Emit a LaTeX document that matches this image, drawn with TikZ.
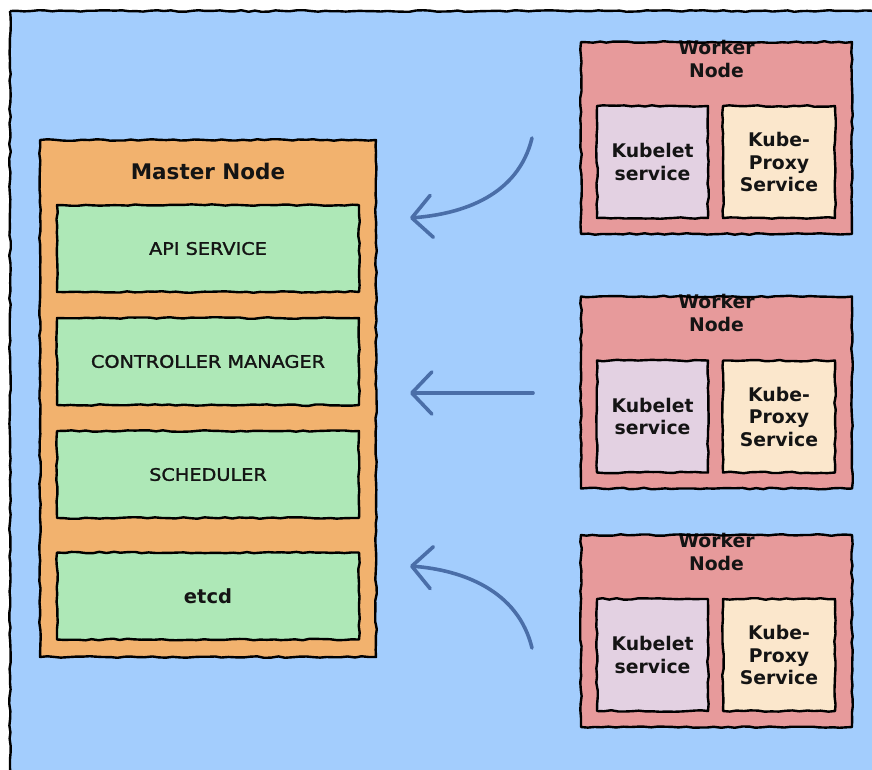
\documentclass[tikz,border=0pt]{standalone}
\usepackage{fontspec}
\setmainfont{DejaVu Sans}
\newfontfamily\wideface[FakeStretch=1.12, FakeBold=1.5]{DejaVu Sans}
\usetikzlibrary{decorations.pathmorphing,arrows.meta}

\definecolor{skyfill}{HTML}{A3CDFD}
\definecolor{masterfill}{HTML}{F2B26E}
\definecolor{svcfill}{HTML}{AEE8B7}
\definecolor{workerfill}{HTML}{E79A9B}
\definecolor{kubeletfill}{HTML}{E3D1E2}
\definecolor{proxyfill}{HTML}{FBE7CC}
\definecolor{arrowblue}{HTML}{4A6EA8}
\definecolor{ink}{HTML}{141414}

\tikzset{
  sketch/.style={draw=black, line width=2.4pt, line join=round,
    decorate, decoration={random steps, segment length=7pt, amplitude=0.8pt}},
  plainbox/.style={rectangle, inner sep=0pt, outer sep=0pt, text=ink},
  masterbox/.style={plainbox, fill=masterfill, minimum width=336pt, minimum height=517pt},
  svcbox/.style={plainbox, fill=svcfill, minimum width=302pt, minimum height=87pt,
    font=\wideface\fontsize{17.2}{20}\selectfont},
  workerbox/.style={plainbox, fill=workerfill, minimum width=271pt, minimum height=192pt},
  kubeletbox/.style={plainbox, fill=kubeletfill, minimum width=111pt, minimum height=112pt,
    align=center, font=\bfseries\fontsize{18.8}{22.5}\selectfont},
  proxybox/.style={plainbox, fill=proxyfill, minimum width=112pt, minimum height=112pt,
    align=center, font=\bfseries\fontsize{18.8}{22.5}\selectfont},
  titletext/.style={align=center, inner sep=0pt, text=ink,
    font=\bfseries\fontsize{18.8}{23}\selectfont},
  flow/.style={draw=arrowblue, line width=3.6pt, line cap=round,
    -{Straight Barb[length=20pt, width=42pt, line cap=round, line join=round]}},
}

\begin{document}
\begin{tikzpicture}[x=1pt, y=-1pt]
\pgfmathsetseed{7}
\useasboundingbox (0,0) rectangle (872,769);
\clip (0,0) rectangle (872,769);
\fill[white] (0,0) rectangle (872,769);

% outer frame
\fill[skyfill] (10,11) rectangle (900,800);
\draw[sketch] (10,11) -- (900,11);
\draw[sketch] (10,11) -- (10,800);

% master node
\node[masterbox] (master) at (208,398.5) {};
\draw[sketch] (master.north west) rectangle (master.south east);
\node[text=ink, font=\bfseries\fontsize{21.5}{25}\selectfont] (mtitle) at (208,171) {Master Node};

\node[svcbox] (api) at (208,248.5) {API SERVICE};
\draw[sketch] (api.north west) rectangle (api.south east);
\node[svcbox] (ctrl) at (208,361.5) {CONTROLLER MANAGER};
\draw[sketch] (ctrl.north west) rectangle (ctrl.south east);
\node[svcbox] (sched) at (208,474.5) {SCHEDULER};
\draw[sketch] (sched.north west) rectangle (sched.south east);
\node[svcbox, font=\bfseries\fontsize{19.5}{22}\selectfont] (etcd) at (208,596) {etcd};
\draw[sketch] (etcd.north west) rectangle (etcd.south east);

% worker nodes
\foreach \n/\y in {1/138, 2/392.5, 3/631} {
  \node[workerbox] (w\n) at (716.5,\y) {};
  \node[titletext] (wt\n) at (716.5,\y-79.5) {Worker\\Node};
  \draw[sketch] (w\n.north west) rectangle (w\n.south east);
  \node[kubeletbox] (k\n) at (652.5,\y+24) {Kubelet\\service};
  \draw[sketch] (k\n.north west) rectangle (k\n.south east);
  \node[proxybox] (p\n) at (779,\y+24) {Kube-\\Proxy\\Service};
  \draw[sketch] (p\n.north west) rectangle (p\n.south east);
}

% connectors
\coordinate (a1s) at (532,138);
\coordinate (a1e) at (410,218);
\coordinate (a2s) at (533,393);
\coordinate (a2e) at (410,393);
\coordinate (a3s) at (532,648);
\coordinate (a3e) at (410,566);
\draw[flow] (a1s) .. controls (518,196) and (462,214) .. (a1e);
\draw[flow] (a2s) -- (a2e);
\draw[flow] (a3s) .. controls (518,590) and (462,570) .. (a3e);
\end{tikzpicture}
\end{document}
